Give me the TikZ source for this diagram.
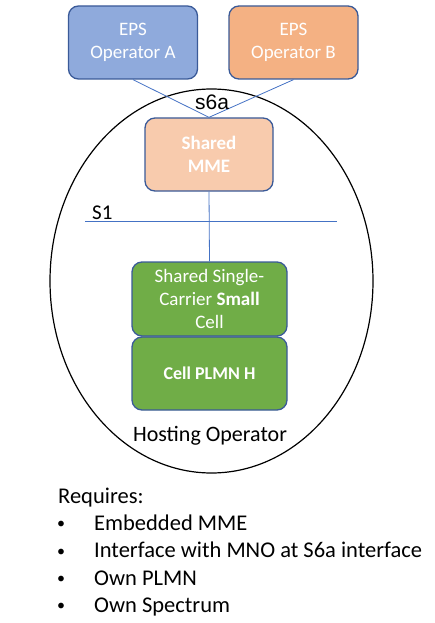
\documentclass[tikz,border=0pt]{standalone}
\usepackage{fontspec}
\setmainfont{Carlito}
\newfontfamily\arialf{Liberation Sans}
\usetikzlibrary{shapes.geometric}
\definecolor{opA}{HTML}{8FAADC}
\definecolor{opB}{HTML}{F4B183}
\definecolor{mmefill}{HTML}{F8CBAD}
\definecolor{greenfill}{HTML}{70AD47}
\definecolor{boxline}{HTML}{3A5A98}
\definecolor{linkblue}{HTML}{4472C4}
\begin{document}
\begin{tikzpicture}[x=1pt,y=-1pt,
  box/.style={draw=boxline, line width=1.3pt, rounded corners=10pt, inner sep=0pt,
    align=center, text=white, font=\fontsize{19}{23}\selectfont},
  link/.style={draw=linkblue, line width=0.8pt},
  lbl/.style={inner sep=0pt, anchor=base, text=black},
  listtxt/.style={inner sep=0pt, anchor=base west, font=\fontsize{22.5}{27}\selectfont},
  bullet/.style={inner sep=0pt, anchor=base west, font=\fontsize{16}{20}\selectfont}]
\useasboundingbox (0,0) rectangle (434,623);
\node[ellipse, draw=black, line width=1.2pt, minimum width=323pt, minimum height=384pt, inner sep=0pt] (host) at (211.5,281) {};
\node[box, fill=opA, minimum width=129pt, minimum height=73pt] (A) at (133,42.5) {EPS\\Operator A};
\node[box, fill=opB, minimum width=129pt, minimum height=73pt] (B) at (293.5,42.5) {EPS\\Operator B};
\node[box, fill=mmefill, minimum width=128pt, minimum height=73pt, font=\fontsize{19}{23}\selectfont\bfseries] (mme) at (209,154.5) {Shared\\MME};
\node[box, fill=greenfill, minimum width=155pt, minimum height=74pt] (cell) at (209.5,299) {Shared Single-\\Carrier \textbf{Small}\\Cell};
\node[box, fill=greenfill, minimum width=155pt, minimum height=73pt, font=\fontsize{18}{22}\selectfont\bfseries] (plmn) at (209.5,373.5) {Cell PLMN H};
\draw[link] (A.south) -- (mme.north);
\draw[link] (B.south) -- (mme.north);
\draw[link] (mme.south) -- (cell.north);
\coordinate (s1l) at (85,221);
\coordinate (s1r) at (337,221);
\draw[link] (s1l) -- (s1r);
\node[lbl, font=\arialf\fontsize{21}{25}\selectfont] (s6a) at (212,110) {s6a};
\node[lbl, anchor=base west, font=\fontsize{21}{25}\selectfont] (s1) at (92,219) {S1};
\node[lbl, font=\fontsize{22}{26}\selectfont] (hostlbl) at (210,441) {Hosting Operator};
\node[listtxt] (req) at (58,503) {Requires:};
\foreach \i/\t/\y in {1/Embedded MME/530, 2/Interface with MNO at S6a interface/557.5, 3/Own PLMN/585, 4/Own Spectrum/612} {
  \node[bullet] (b\i) at (57,\y-1.5) {•};
  \node[listtxt] (t\i) at (94,\y) {\t};
}
\end{tikzpicture}
\end{document}
